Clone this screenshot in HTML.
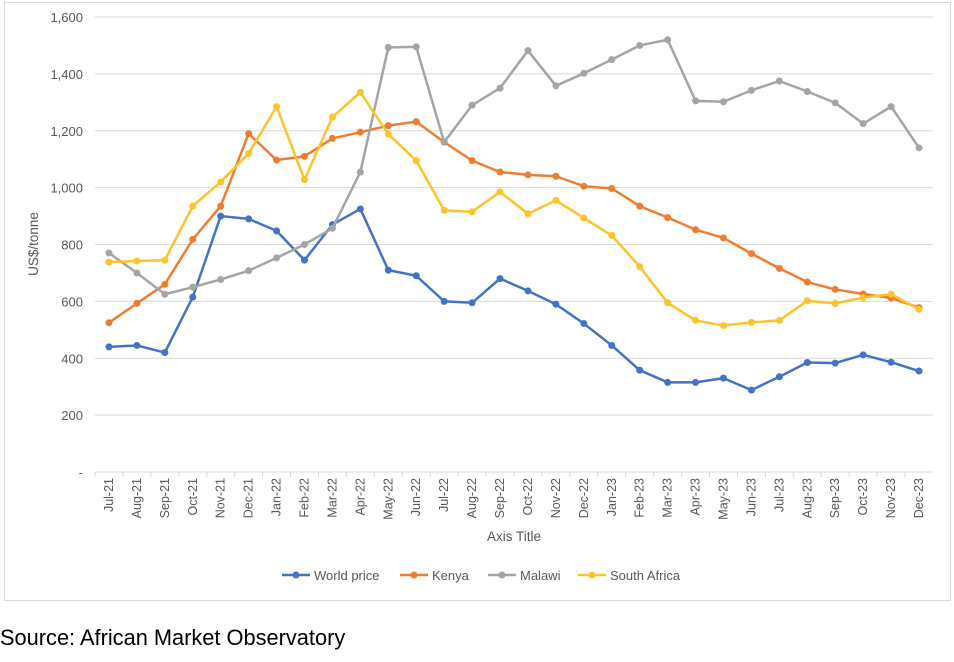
<!DOCTYPE html>
<html><head><meta charset="utf-8"><style>
body{margin:0;width:954px;height:662px;background:#fff;font-family:"Liberation Sans",sans-serif;position:relative;overflow:hidden}
#frame{position:absolute;left:4px;top:2px;width:945px;height:597px;border:1px solid #d9d9d9}
#src{position:absolute;left:0;top:625px;font-size:21.8px;color:#000}
</style></head><body>
<div id="frame"></div>
<svg id="chart" width="954" height="662" style="position:absolute;left:0;top:0"></svg>
<div id="src">Source: African Market Observatory</div>
<script>
const categories=["Jul-21","Aug-21","Sep-21","Oct-21","Nov-21","Dec-21","Jan-22","Feb-22","Mar-22","Apr-22","May-22","Jun-22","Jul-22","Aug-22","Sep-22","Oct-22","Nov-22","Dec-22","Jan-23","Feb-23","Mar-23","Apr-23","May-23","Jun-23","Jul-23","Aug-23","Sep-23","Oct-23","Nov-23","Dec-23"];
const worldPrice=[440,445,420,615,900,890,848,745,870,925,710,690,600,595,680,637,590,522,445,358,315,315,330,288,335,385,383,412,386,355];
const kenya=[525,593,660,818,935,1190,1097,1110,1173,1195,1218,1232,1160,1095,1055,1045,1040,1005,997,935,895,852,823,768,716,668,642,626,612,578];
const malawi=[770,700,625,650,677,708,753,800,857,1055,1493,1495,1160,1290,1350,1482,1358,1402,1450,1500,1520,1305,1302,1342,1375,1338,1298,1225,1285,1140];
const southAfrica=[738,742,745,935,1020,1120,1285,1028,1248,1335,1188,1095,920,915,985,908,955,893,832,722,595,533,515,526,533,602,593,613,625,572];
const yTicks=[0,200,400,600,800,1000,1200,1400,1600];
const yTickLabels=["-","200","400","600","800","1,000","1,200","1,400","1,600"];
const seriesNames=["World price","Kenya","Malawi","South Africa"];
const seriesColors=["#4472c4","#ed7d31","#a5a5a5","#fcc32a"];
const seriesData=[worldPrice,kenya,malawi,southAfrica];

const NS="http://www.w3.org/2000/svg",svg=document.getElementById('chart');
const L=95,R=933,T=17,B=472,band=(R-L)/categories.length;
const x=i=>L+band*(i+0.5), y=v=>B-(v/1600)*(B-T);
function mk(t,a,p){const e=document.createElementNS(NS,t);for(const k in a)e.setAttribute(k,a[k]);(p||svg).appendChild(e);return e;}
yTicks.forEach((v,i)=>{
 if(v>0){const g=mk('line',{x1:L,x2:R,y1:y(v),y2:y(v),stroke:'#d9d9d9','stroke-width':1});
 
 }
 const t=mk('text',{x:83,y:y(v)+5,'text-anchor':'end','font-size':13,fill:'#595959'});t.textContent=yTickLabels[i];
 
 
});
const ax=mk('line',{x1:L,x2:R,y1:B,y2:B,stroke:'#d9d9d9'});


categories.forEach((c,i)=>{
 const tk=mk('line',{x1:L+band*i,x2:L+band*i,y1:B,y2:B+5,stroke:'#d9d9d9'});
 
 
 const t=mk('text',{x:0,y:0,'text-anchor':'end','font-size':12.5,fill:'#595959',transform:`translate(${x(i)+4},${B+6}) rotate(-90)`});t.textContent=c;
 
 
});
const yt=mk('text',{x:0,y:0,'text-anchor':'middle','font-size':13.5,fill:'#595959',transform:'translate(38,244) rotate(-90)'});yt.textContent='US$/tonne';


const xt=mk('text',{x:514,y:541,'text-anchor':'middle','font-size':13.5,fill:'#595959'});xt.textContent='Axis Title';


seriesData.forEach((d,s)=>{
 const p=mk('polyline',{points:d.map((v,i)=>x(i)+','+y(v)).join(' '),fill:'none',stroke:seriesColors[s],'stroke-width':2.5,'stroke-linejoin':'round'});
 
 
 d.forEach((v,i)=>{const c=mk('circle',{cx:x(i),cy:y(v),r:3.5,fill:seriesColors[s]});
 
 });
});
const lx=[282,400,488,578];
seriesNames.forEach((n,s)=>{
 const g=mk('g',{});
 
 
 mk('line',{x1:lx[s],x2:lx[s]+28,y1:575,y2:575,stroke:seriesColors[s],'stroke-width':2.5},g);
 mk('circle',{cx:lx[s]+14,cy:575,r:3.5,fill:seriesColors[s]},g);
 const t=mk('text',{x:lx[s]+32,y:580,'font-size':13,fill:'#595959'},g);t.textContent=n;
});
</script>
</body></html>
